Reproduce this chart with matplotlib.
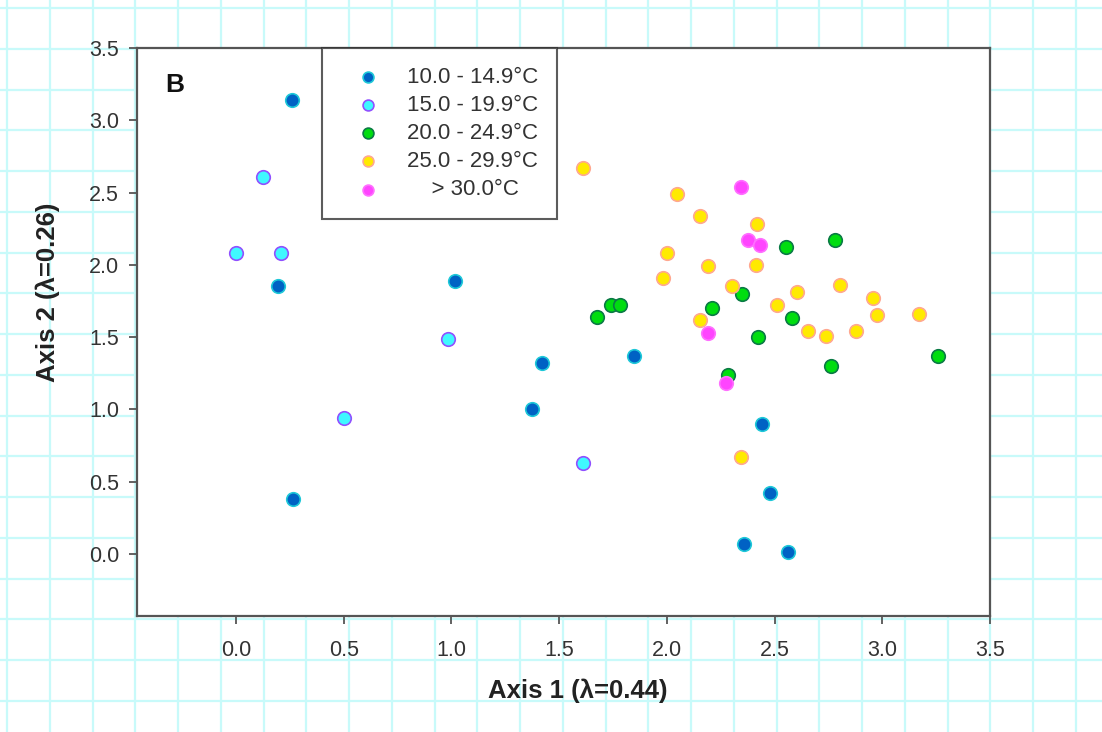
import matplotlib
matplotlib.use("Agg")
import matplotlib.pyplot as plt
import numpy as np

plt.rcParams['font.family'] = ['Liberation Sans', 'DejaVu Sans']

# ordination scores, grouped by temperature class
labels = ["10.0 - 14.9°C", "15.0 - 19.9°C", "20.0 - 24.9°C", "25.0 - 29.9°C", "    > 30.0°C"]

t10_x = [0.26, 0.195, 0.264, 1.015, 1.42, 1.375, 1.845, 2.44, 2.48, 2.36, 2.56]
t10_y = [3.14, 1.85, 0.38, 1.89, 1.32, 1.00, 1.37, 0.90, 0.42, 0.07, 0.01]

t15_x = [0.0, 0.125, 0.21, 0.50, 0.983, 1.61]
t15_y = [2.08, 2.61, 2.08, 0.94, 1.49, 0.63]

t20_x = [1.675, 1.74, 1.78, 2.21, 2.35, 2.285, 2.425, 2.555, 2.58, 2.78, 2.76, 3.26]
t20_y = [1.64, 1.72, 1.72, 1.70, 1.80, 1.24, 1.50, 2.12, 1.63, 2.17, 1.30, 1.37]

t25_x = [1.61, 2.045, 2.155, 2.42, 2.00, 2.19, 2.415, 1.98, 2.30, 2.155,
         2.51, 2.605, 2.805, 2.955, 2.975, 3.17, 2.655, 2.74, 2.88, 2.345]
t25_y = [2.67, 2.49, 2.34, 2.28, 2.08, 1.99, 2.00, 1.91, 1.85, 1.62,
         1.72, 1.81, 1.86, 1.77, 1.65, 1.66, 1.545, 1.51, 1.545, 0.67]

t30_x = [2.345, 2.375, 2.43, 2.19, 2.275]
t30_y = [2.54, 2.17, 2.14, 1.53, 1.18]

xticks = [0.0, 0.5, 1.0, 1.5, 2.0, 2.5, 3.0, 3.5]
yticks = [0.0, 0.5, 1.0, 1.5, 2.0, 2.5, 3.0, 3.5]

series = [(t10_x, t10_y), (t15_x, t15_y), (t20_x, t20_y), (t25_x, t25_y), (t30_x, t30_y)]
faces = ["#0062c4", "#3ff8ff", "#00dd10", "#ffea00", "#ff44ff"]
edges = ["#1ec8d8", "#9050ff", "#0a7a45", "#ffa890", "#ff70ff"]

W, H = 1102, 732
fig = plt.figure(figsize=(W / 100, H / 100), dpi=100)

# graph paper background
bg = fig.add_axes([0, 0, 1, 1], zorder=-5)
bg.set_xlim(0, W)
bg.set_ylim(H, 0)
bg.axis("off")
for gx in np.arange(7, 1090, 42.75):
    bg.axvline(gx, color="#c8fafa", lw=1.6)
for gy in np.arange(8, 710, 40.75):
    bg.axhline(gy, color="#c8fafa", lw=1.6)

ax = fig.add_axes([137 / W, 1 - 616 / H, (990 - 137) / W, (616 - 48) / H])
ax.set_facecolor("white")

for (xs, ys), fc, ec, lab in zip(series, faces, edges, labels):
    ax.scatter(xs, ys, s=95, c=fc, edgecolors=ec, linewidths=1.2, label=lab, zorder=3)

ax.set_xlim(-0.46, 3.5)
ax.set_ylim(-0.43, 3.5)
ax.set_xticks(xticks)
ax.set_yticks(yticks)
ax.set_xticklabels(["%.1f" % t for t in xticks])
ax.set_yticklabels(["%.1f" % t for t in yticks])
ax.tick_params(axis="both", direction="out", length=6, width=1.3, color="#555555",
               labelsize=15.5, labelcolor="#333333")
ax.tick_params(axis="x", pad=11)
ax.tick_params(axis="y", pad=7)

for s in ax.spines.values():
    s.set_color("#555555")
    s.set_linewidth(1.6)

ax.text(0.033, 0.935, "B", transform=ax.transAxes, fontsize=19, fontweight="bold",
        ha="left", va="center", color="#111111")

leg = ax.legend(loc="upper left", bbox_to_anchor=(0.217, 1.0), borderaxespad=0,
                fontsize=16, frameon=True, fancybox=False, handletextpad=0.55,
                borderpad=0.85, labelspacing=0.32, handlelength=2.4, markerscale=0.8)
for t in leg.get_texts():
    t.set_color("#333333")
leg.get_frame().set_edgecolor("#333333")
leg.get_frame().set_linewidth(1.5)

fig.text(578 / W, 1 - 691 / H, "Axis 1 (λ=0.44)", fontsize=18.5, fontweight="bold",
         ha="center", va="center", color="#222222")
fig.text(48 / W, 1 - 292 / H, "Axis 2 (λ=0.26)", fontsize=18.5, fontweight="bold",
         ha="center", va="center", rotation=90, color="#222222")

fig.savefig("out.png", dpi=100)
